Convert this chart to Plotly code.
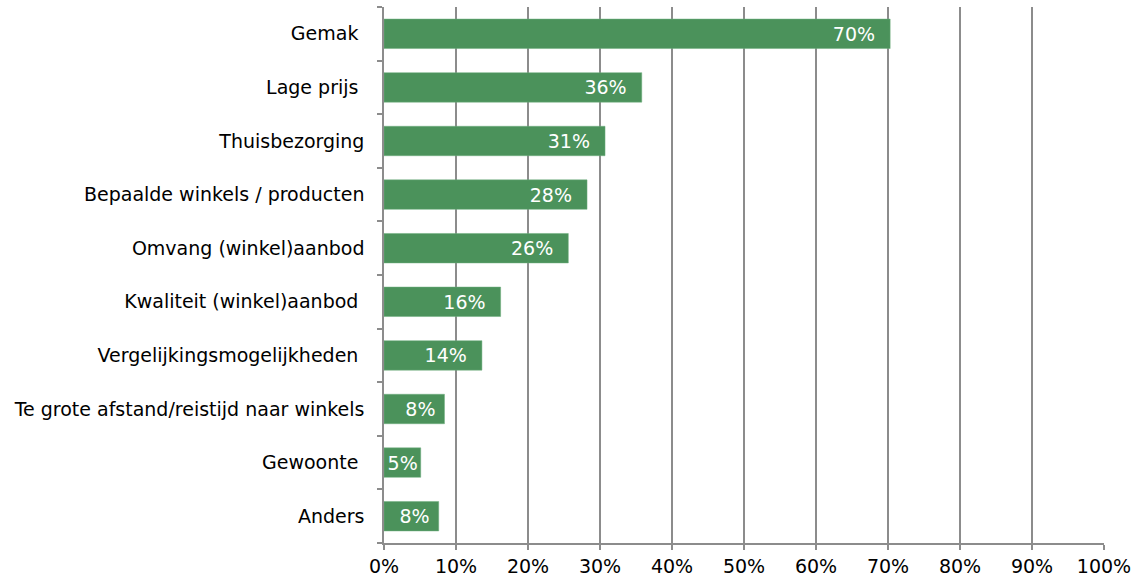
import plotly.graph_objects as go

categories = ["Gemak\u00a0", "Lage prijs\u00a0", "Thuisbezorging", "Bepaalde winkels / producten",
              "Omvang (winkel)aanbod", "Kwaliteit (winkel)aanbod\u00a0", "Vergelijkingsmogelijkheden\u00a0",
              "Te grote afstand/reistijd naar winkels", "Gewoonte\u00a0", "Anders"]
values = [70.3, 35.8, 30.7, 28.2, 25.6, 16.2, 13.6, 8.4, 5.1, 7.6]
labels = ["70%", "36%", "31%", "28%", "26%", "16%", "14%", "8%", "5%", "8%"]
x_ticks = list(range(0, 101, 10))
x_tick_text = [f"{t}%" for t in x_ticks]

font_family = "Verdana, DejaVu Sans, sans-serif"


def padded(label, v):
    n = 2 if v > 10 else (1 if v > 6 else 0)
    return label + "\u00a0" * n


fig = go.Figure(go.Bar(
    x=values, y=categories, orientation="h",
    marker=dict(color="#4B925B", line=dict(color="#6FAE7E", width=0.5)),
    width=0.55,
    text=[padded(l, v) for l, v in zip(labels, values)],
    textposition="inside", insidetextanchor="end",
    textfont=dict(color="white", size=19, family=font_family),
    constraintext="none", cliponaxis=False,
))

fig.update_layout(
    width=1133, height=578,
    margin=dict(l=384, r=29, t=7, b=35, autoexpand=False),
    paper_bgcolor="white", plot_bgcolor="white",
    font=dict(family=font_family, size=19, color="#000000"),
    showlegend=False,
)
fig.update_xaxes(
    range=[0, 100], tickvals=x_ticks, ticktext=x_tick_text,
    showgrid=True, gridcolor="#8C8C8C", gridwidth=1.5,
    showline=True, linecolor="#8C8C8C", linewidth=1.5,
    ticks="outside", ticklen=5, tickcolor="#8C8C8C", tickwidth=1.5,
    zeroline=False, fixedrange=True, automargin=False,
)
fig.update_yaxes(
    categoryorder="array", categoryarray=categories[::-1],
    autorange=False, range=[-0.5, len(categories) - 0.5],
    showgrid=False, showline=True, linecolor="#8C8C8C", linewidth=1.5,
    ticks="outside", ticklen=5, tickcolor="#8C8C8C", tickwidth=1.5,
    tickson="boundaries", ticklabelstandoff=14, fixedrange=True, automargin=False,
)

fig.write_html("out.html", config={"displayModeBar": False},
               post_script="document.body.style.margin='0';")
